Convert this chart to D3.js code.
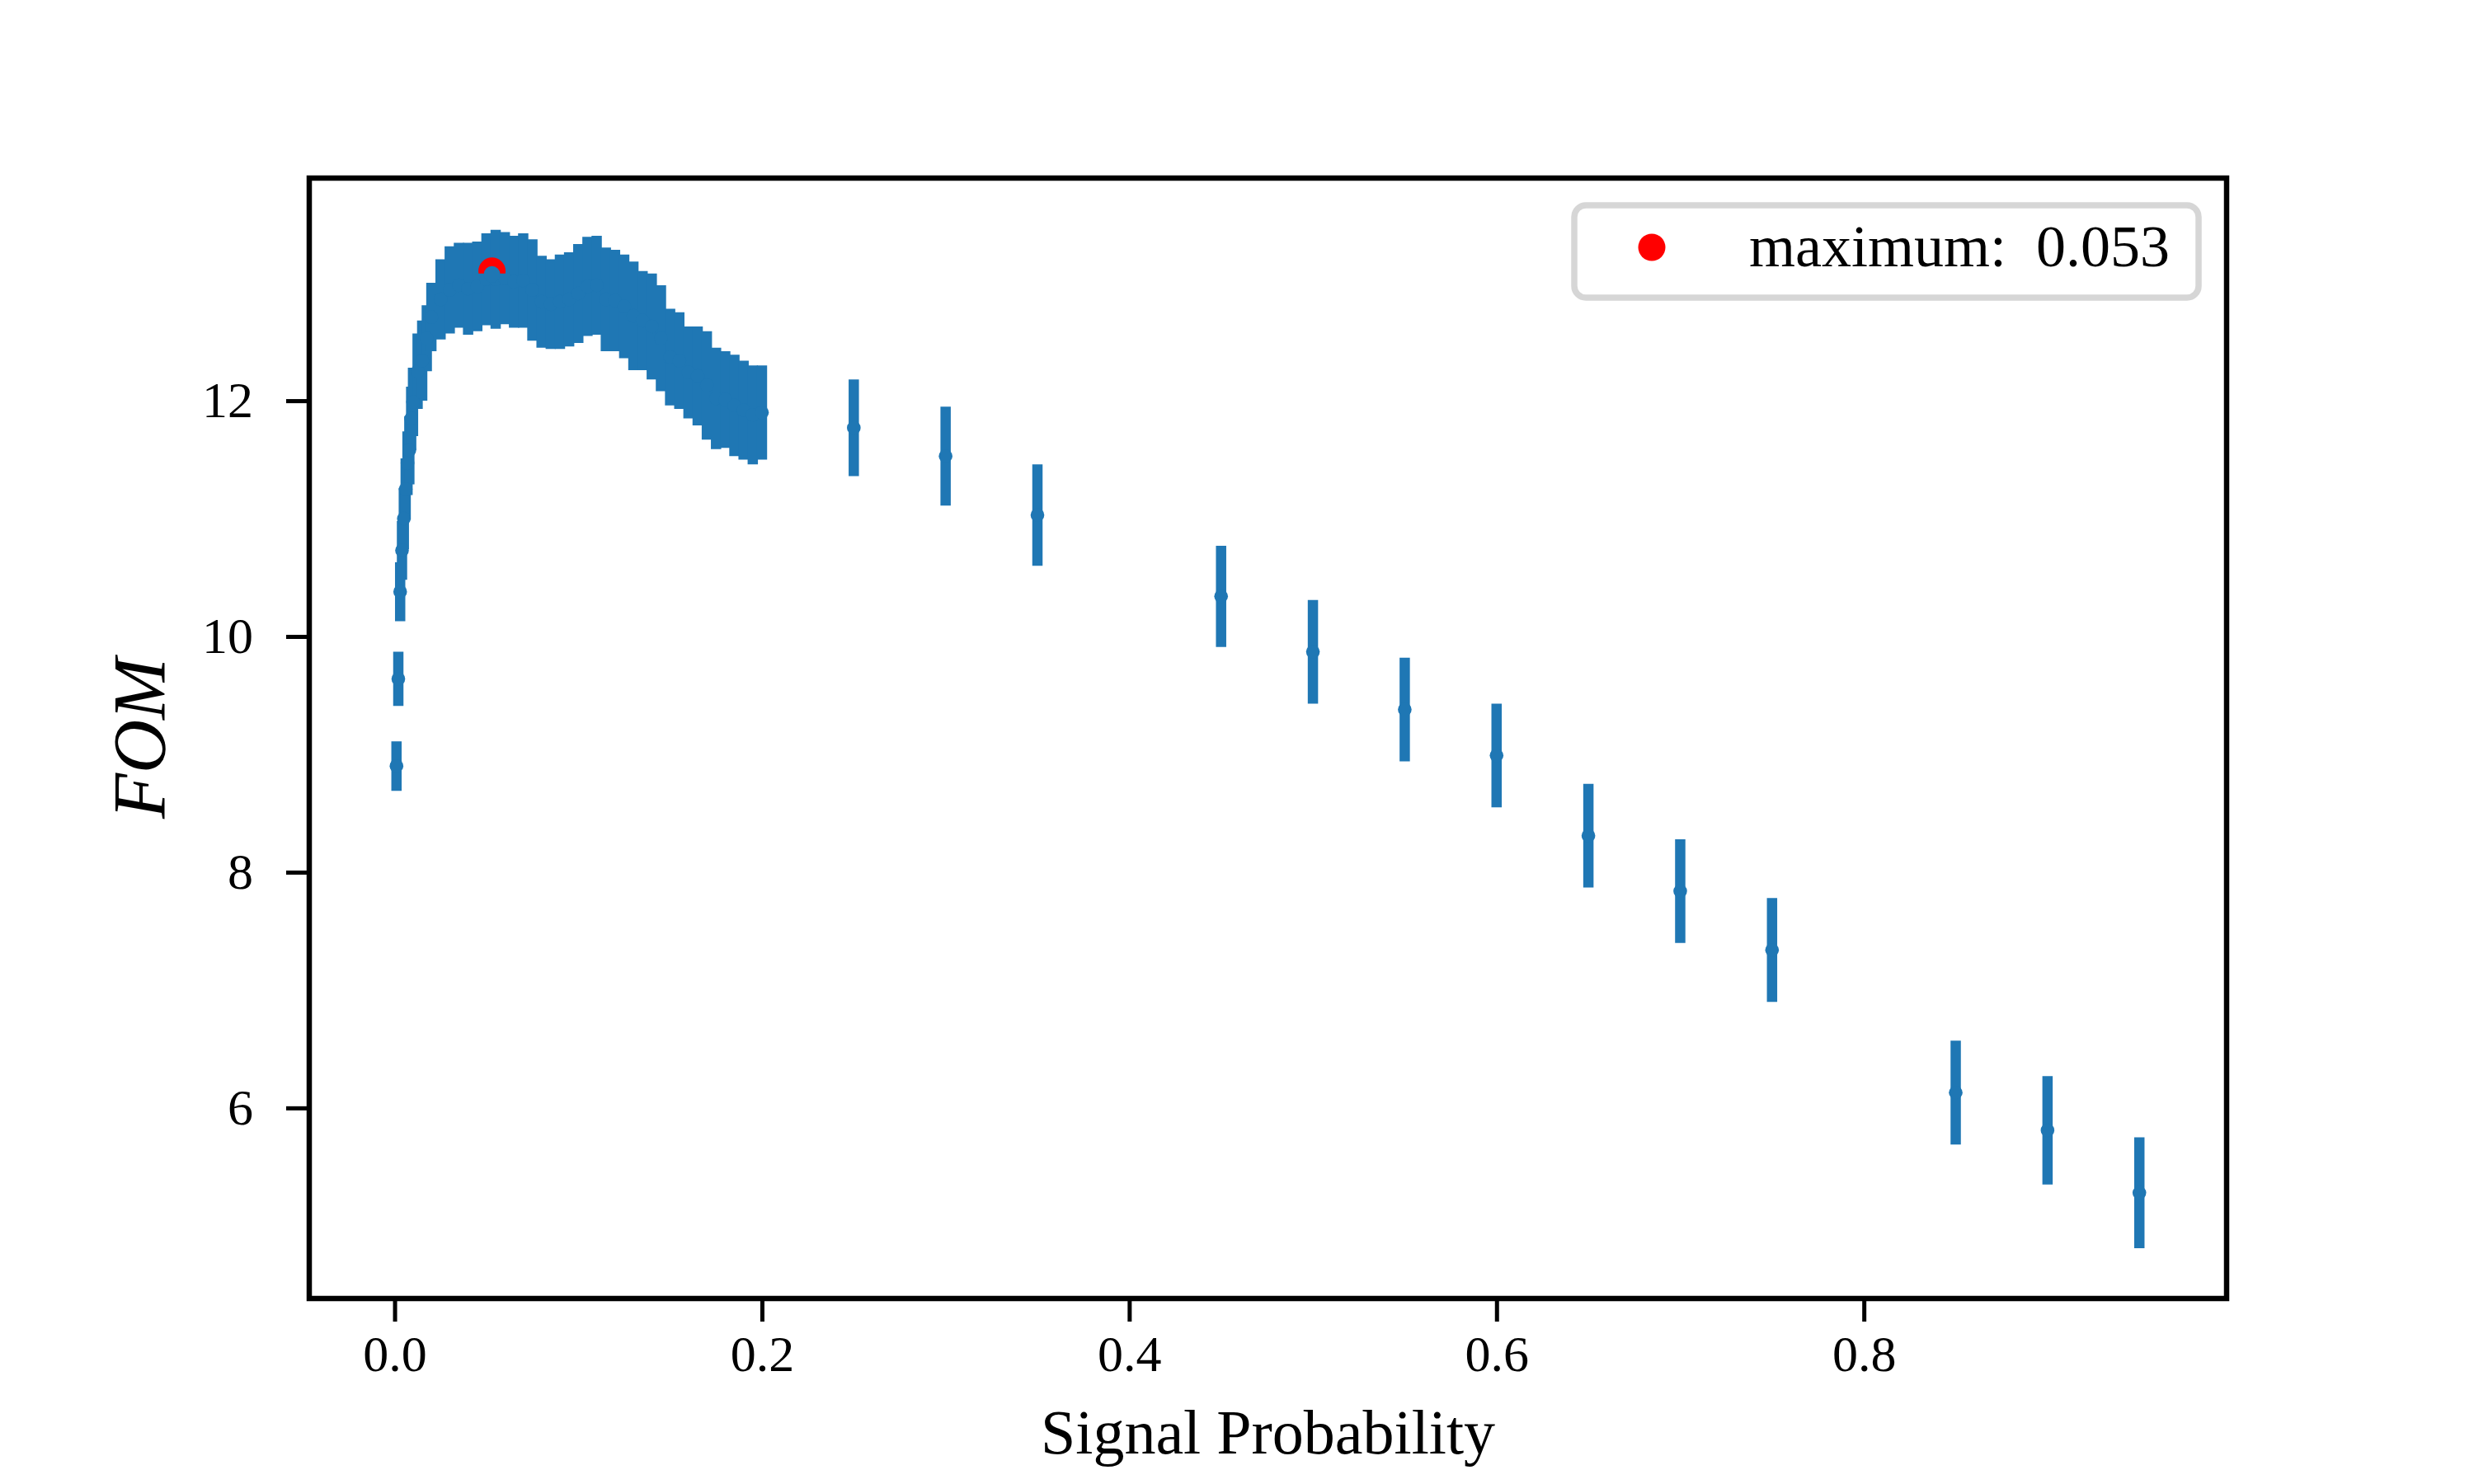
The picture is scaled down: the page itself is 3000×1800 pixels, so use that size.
<!DOCTYPE html>
<html>
<head>
<meta charset="utf-8">
<script src="https://cdn.jsdelivr.net/npm/d3@7"></script>
<style>
  body { margin: 0; background: #fff; }
  text { font-family: "Liberation Serif", "DejaVu Serif", serif; fill: #000; }
</style>
</head>
<body>
<div id="chart"></div>
<script>
// signal probability cut values
const xs = [0.001, 0.002, 0.003, 0.004, 0.005, 0.006, 0.007, 0.008, 0.009, 0.010,
  0.0125, 0.015, 0.0175, 0.02, 0.025, 0.03, 0.035, 0.04, 0.045, 0.05,
  0.055, 0.06, 0.065, 0.07, 0.075, 0.08, 0.085, 0.09, 0.095, 0.1,
  0.105, 0.11, 0.115, 0.12, 0.125, 0.13, 0.135, 0.14, 0.145, 0.15,
  0.155, 0.16, 0.165, 0.17, 0.175, 0.18, 0.185, 0.19, 0.195, 0.2,
  0.25, 0.3, 0.35, 0.45, 0.5, 0.55, 0.6, 0.65, 0.7, 0.75, 0.85, 0.9, 0.95];

// FOM values
const fom = [8.90, 9.64, 10.38, 10.73, 11.00, 11.25, 11.47, 11.58, 11.85, 11.99,
  12.25, 12.34, 12.53, 12.71, 12.86, 12.94, 12.98, 12.95, 12.97, 13.03,
  13.03, 13.04, 13.01, 13.02, 12.94, 12.84, 12.82, 12.84, 12.86, 12.91,
  12.97, 12.98, 12.86, 12.85, 12.80, 12.72, 12.68, 12.63, 12.53, 12.37,
  12.34, 12.24, 12.21, 12.13, 12.02, 12.01, 11.96, 11.92, 11.88, 11.90,
  11.77, 11.53, 11.03, 10.34, 9.87, 9.38, 8.99, 8.31, 7.84, 7.34, 6.13, 5.81, 5.28];

// FOM errors
const err = [0.21, 0.23, 0.25, 0.25, 0.26, 0.26, 0.27, 0.29, 0.27, 0.29,
  0.32, 0.34, 0.28, 0.29, 0.34, 0.37, 0.36, 0.39, 0.38, 0.39,
  0.42, 0.39, 0.39, 0.40, 0.43, 0.39, 0.38, 0.40, 0.40, 0.42,
  0.42, 0.42, 0.44, 0.43, 0.44, 0.46, 0.42, 0.45, 0.45, 0.41,
  0.41, 0.39, 0.42, 0.46, 0.43, 0.41, 0.43, 0.42, 0.42, 0.40,
  0.41, 0.42, 0.43, 0.43, 0.44, 0.44, 0.44, 0.44, 0.44, 0.44, 0.44, 0.46, 0.47];

const maxX = 0.053, maxY = 13.10;
const xTicks = [0, 0.2, 0.4, 0.6, 0.8];
const yTicks = [6, 8, 10, 12];

const data = xs.map((x, i) => ({ x: x, y: fom[i], e: err[i] }));

const W = 3000, H = 1800;
const margin = { top: 216, right: 300, bottom: 225, left: 375 },
      width = W - margin.left - margin.right,
      height = H - margin.top - margin.bottom;

const blue = "#1f77b4";

const svg = d3.select("#chart")
  .append("svg")
  .attr("width", W)
  .attr("height", H);

const g = svg.append("g")
  .attr("transform", "translate(" + margin.left + "," + margin.top + ")");

const x = d3.scaleLinear().domain([-0.0465, 0.9975]).range([0, width]);
const y = d3.scaleLinear().domain([4.383, 13.889]).range([height, 0]);

// error bars
g.selectAll("line.err")
  .data(data)
  .enter()
  .append("line")
  .attr("class", "err")
  .attr("x1", d => x(d.x))
  .attr("x2", d => x(d.x))
  .attr("y1", d => y(d.y - d.e))
  .attr("y2", d => y(d.y + d.e))
  .attr("stroke", blue)
  .attr("stroke-width", 12.5);

g.selectAll("circle.pt")
  .data(data)
  .enter()
  .append("circle")
  .attr("class", "pt")
  .attr("cx", d => x(d.x))
  .attr("cy", d => y(d.y))
  .attr("r", 8.3)
  .attr("fill", blue);

// maximum marker, partly hidden like in the original
svg.append("clipPath").attr("id", "tophalf")
  .append("rect")
  .attr("x", x(maxX) - 30).attr("y", y(maxY) - 30)
  .attr("width", 60).attr("height", 33);

g.append("circle")
  .attr("cx", x(maxX))
  .attr("cy", y(maxY))
  .attr("r", 16.5)
  .attr("fill", "red")
  .attr("clip-path", "url(#tophalf)");

g.append("circle")
  .attr("cx", x(maxX))
  .attr("cy", y(maxY) + 4)
  .attr("r", 10)
  .attr("fill", blue);

// axes
const xAxis = g.append("g")
  .attr("transform", "translate(0," + height + ")")
  .call(d3.axisBottom(x).tickValues(xTicks).tickFormat(d3.format(".1f")).tickSize(28).tickPadding(16));

const yAxis = g.append("g")
  .call(d3.axisLeft(y).tickValues(yTicks).tickFormat(d3.format("d")).tickSize(28).tickPadding(40));

[xAxis, yAxis].forEach(a => {
  a.select(".domain").remove();
  a.selectAll(".tick line").attr("stroke", "#000").attr("stroke-width", 5);
  a.selectAll(".tick text")
    .attr("font-family", "'Liberation Serif', serif")
    .attr("font-size", 62)
    .attr("fill", "#000");
});
xAxis.selectAll(".tick text").attr("dy", "0.71em");

g.append("rect")
  .attr("x", 0).attr("y", 0)
  .attr("width", width).attr("height", height)
  .attr("fill", "none")
  .attr("stroke", "#000")
  .attr("stroke-width", 6.5);

// labels
svg.append("text")
  .attr("x", margin.left + width / 2)
  .attr("y", 1763)
  .attr("text-anchor", "middle")
  .attr("font-size", 76)
  .text("Signal Probability");

svg.append("text")
  .attr("transform", "translate(200," + (margin.top + height / 2) + ") rotate(-90)")
  .attr("text-anchor", "middle")
  .attr("font-size", 90)
  .attr("font-style", "italic")
  .text("FOM");

// legend
const lg = svg.append("g");
lg.append("rect")
  .attr("x", 1909).attr("y", 249)
  .attr("width", 757).attr("height", 112)
  .attr("rx", 14).attr("ry", 14)
  .attr("fill", "#fff")
  .attr("stroke", "#d6d6d6")
  .attr("stroke-width", 7.5);
lg.append("circle")
  .attr("cx", 2003).attr("cy", 300)
  .attr("r", 16.5)
  .attr("fill", "red");
lg.append("text")
  .attr("x", 2121).attr("y", 323)
  .attr("font-size", 72)
  .attr("xml:space", "preserve")
  .text("maximum:  " + maxX.toFixed(3));
</script>
</body>
</html>
